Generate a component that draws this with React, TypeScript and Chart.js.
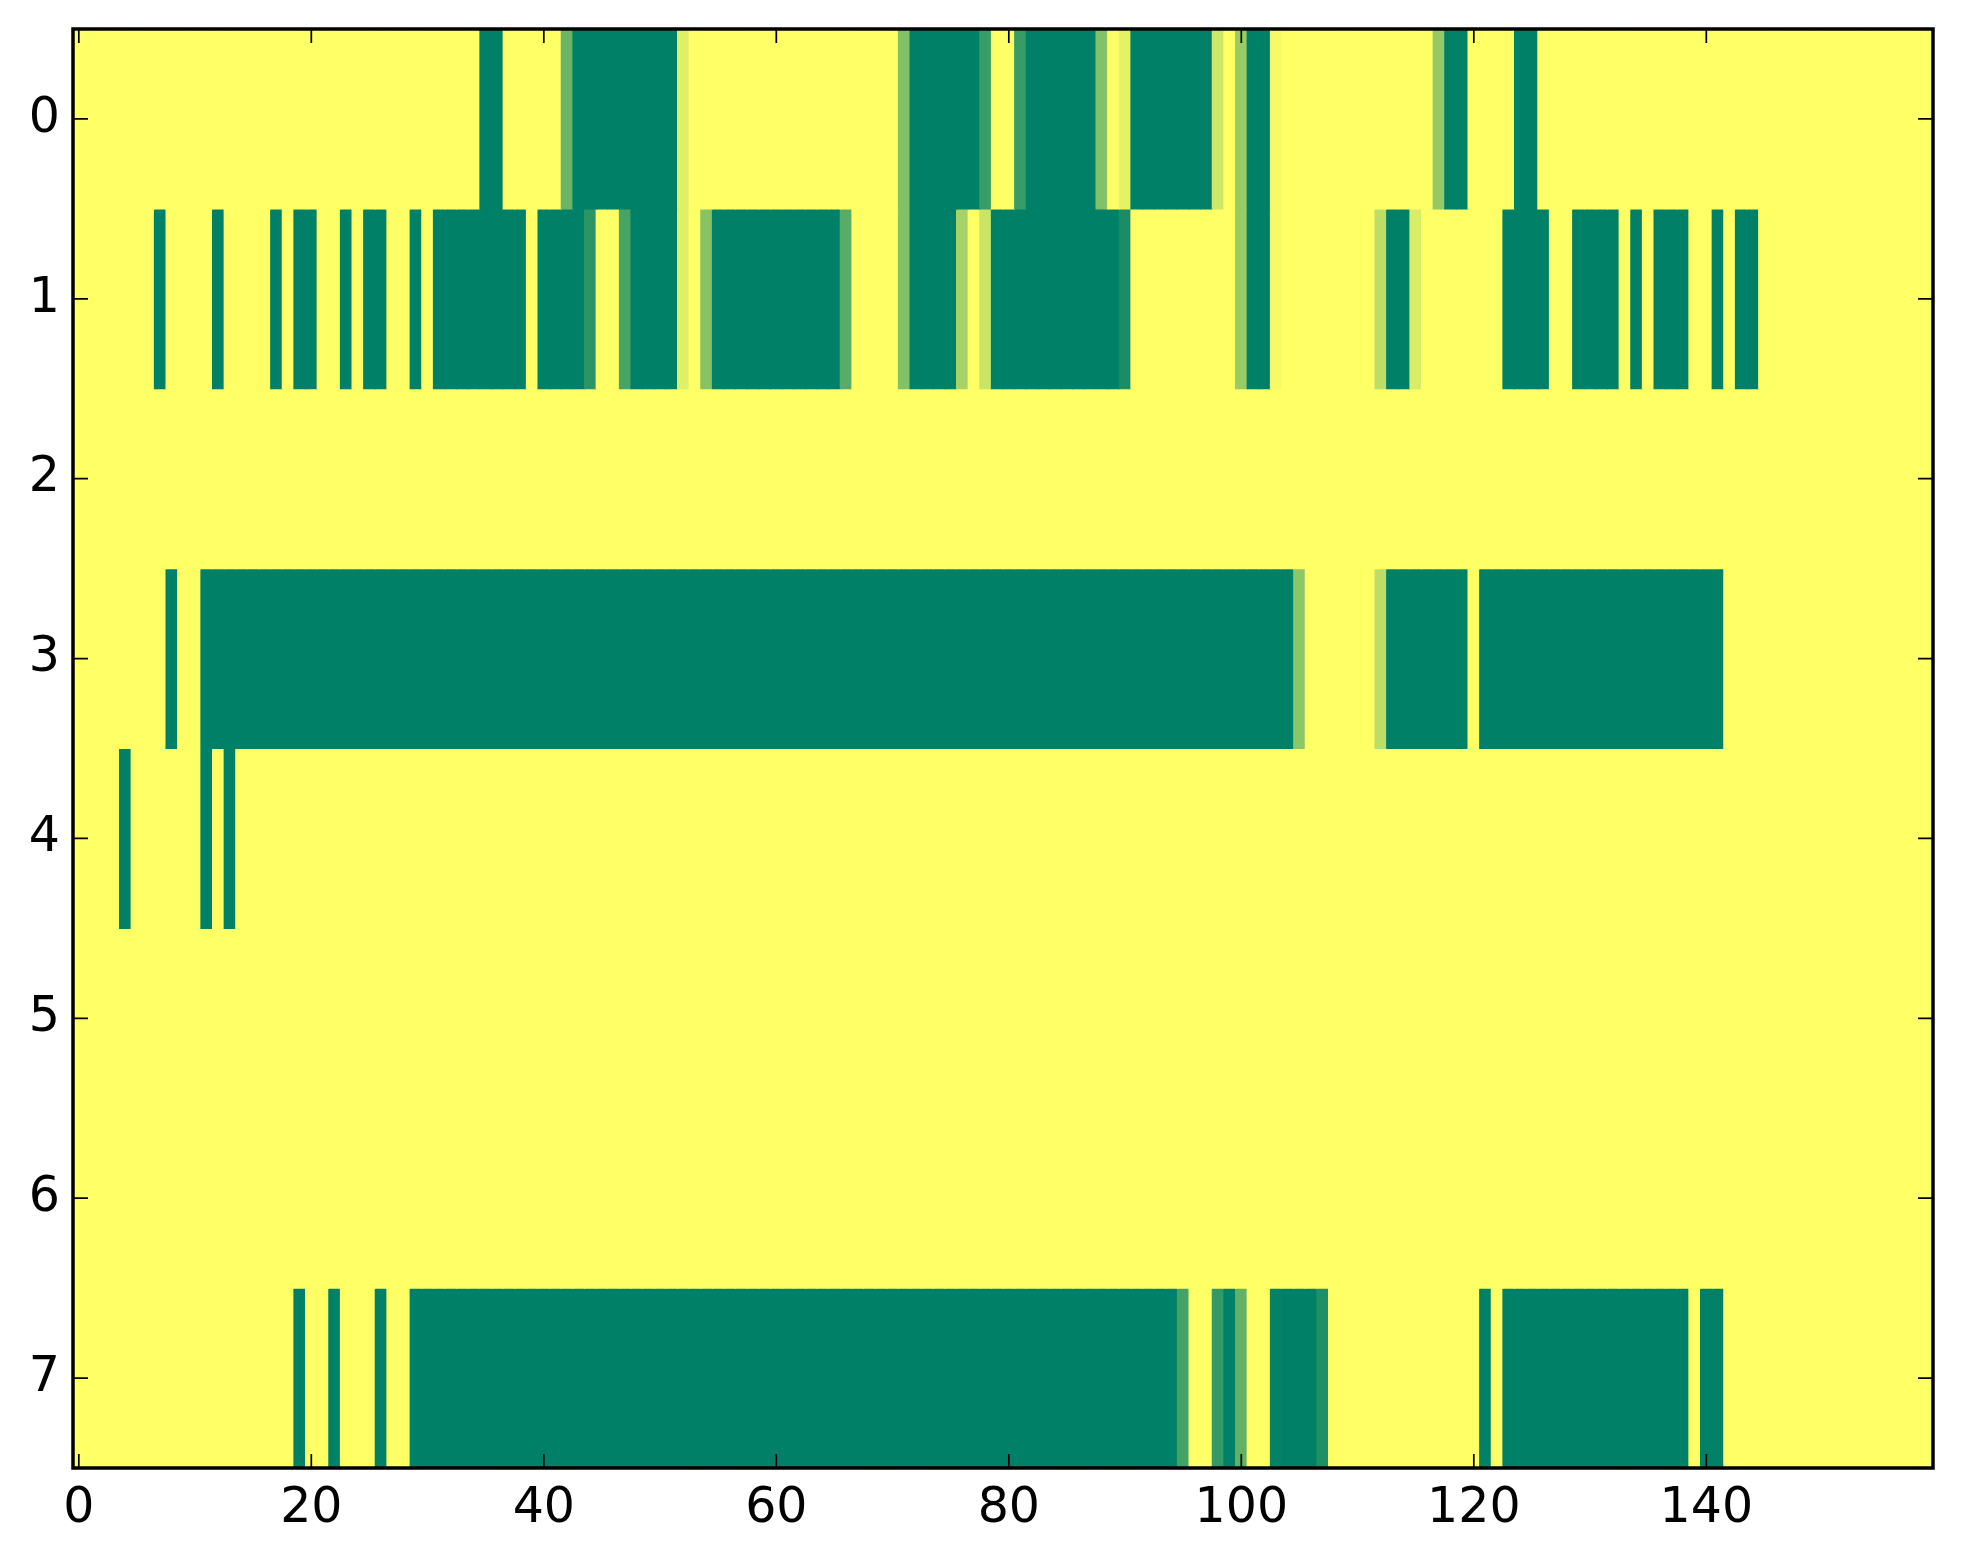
import React, { useEffect, useRef } from "react";
import { Chart, registerables } from "chart.js";

Chart.register(...registerables);

// Tick labels
const xTicks = [0, 20, 40, 60, 80, 100, 120, 140];
const yTicks = [0, 1, 2, 3, 4, 5, 6, 7];

// Cell values per row (160 columns each), 0 = green, 1 = yellow (summer colormap)
const row0 = [
  1, 1, 1, 1, 1, 1, 1, 1, 1, 1,
  1, 1, 1, 1, 1, 1, 1, 1, 1, 1,
  1, 1, 1, 1, 1, 1, 1, 1, 1, 1,
  1, 1, 1, 1, 1, 0, 0, 1, 1, 1,
  1, 1, 0.42, 0, 0, 0, 0, 0, 0, 0,
  0, 0, 0.88, 1, 1, 1, 1, 1, 1, 1,
  1, 1, 1, 1, 1, 1, 1, 1, 1, 1,
  1, 0.51, 0, 0, 0, 0, 0, 0, 0.22, 1,
  1, 0.22, 0, 0, 0, 0, 0, 0, 0.51, 1,
  0.9, 0, 0, 0, 0, 0, 0, 0, 0.81, 1,
  0.6, 0, 0, 0.96, 1, 1, 1, 1, 1, 1,
  1, 1, 1, 1, 1, 1, 1, 0.58, 0, 0,
  1, 1, 1, 1, 0, 0, 1, 1, 1, 1,
  1, 1, 1, 1, 1, 1, 1, 1, 1, 1,
  1, 1, 1, 1, 1, 1, 1, 1, 1, 1,
  1, 1, 1, 1, 1, 1, 1, 1, 1, 1,
];

const row1 = [
  1, 1, 1, 1, 1, 1, 1, 0, 1, 1,
  1, 1, 0, 1, 1, 1, 1, 0, 1, 0,
  0, 1, 1, 0, 1, 0, 0, 1, 1, 0,
  1, 0, 0, 0, 0, 0, 0, 0, 0, 1,
  0, 0, 0, 0, 0.17, 1, 1, 0.28, 0, 0,
  0, 0, 0.88, 1, 0.53, 0, 0, 0, 0, 0,
  0, 0, 0, 0, 0, 0, 0.35, 1, 1, 1,
  1, 0.51, 0, 0, 0, 0, 0.65, 1, 0.79, 0,
  0, 0, 0, 0, 0, 0, 0, 0, 0, 0,
  0.1, 1, 1, 1, 1, 1, 1, 1, 1, 1,
  0.6, 0, 0, 0.96, 1, 1, 1, 1, 1, 1,
  1, 1, 0.74, 0, 0, 0.85, 1, 1, 1, 1,
  1, 1, 1, 0, 0, 0, 0, 1, 1, 0,
  0, 0, 0, 1, 0, 1, 0, 0, 0, 1,
  1, 0, 1, 0, 0, 1, 1, 1, 1, 1,
  1, 1, 1, 1, 1, 1, 1, 1, 1, 1,
];

const row2 = [
  1, 1, 1, 1, 1, 1, 1, 1, 1, 1,
  1, 1, 1, 1, 1, 1, 1, 1, 1, 1,
  1, 1, 1, 1, 1, 1, 1, 1, 1, 1,
  1, 1, 1, 1, 1, 1, 1, 1, 1, 1,
  1, 1, 1, 1, 1, 1, 1, 1, 1, 1,
  1, 1, 1, 1, 1, 1, 1, 1, 1, 1,
  1, 1, 1, 1, 1, 1, 1, 1, 1, 1,
  1, 1, 1, 1, 1, 1, 1, 1, 1, 1,
  1, 1, 1, 1, 1, 1, 1, 1, 1, 1,
  1, 1, 1, 1, 1, 1, 1, 1, 1, 1,
  1, 1, 1, 1, 1, 1, 1, 1, 1, 1,
  1, 1, 1, 1, 1, 1, 1, 1, 1, 1,
  1, 1, 1, 1, 1, 1, 1, 1, 1, 1,
  1, 1, 1, 1, 1, 1, 1, 1, 1, 1,
  1, 1, 1, 1, 1, 1, 1, 1, 1, 1,
  1, 1, 1, 1, 1, 1, 1, 1, 1, 1,
];

const row3 = [
  1, 1, 1, 1, 1, 1, 1, 1, 0, 1,
  1, 0, 0, 0, 0, 0, 0, 0, 0, 0,
  0, 0, 0, 0, 0, 0, 0, 0, 0, 0,
  0, 0, 0, 0, 0, 0, 0, 0, 0, 0,
  0, 0, 0, 0, 0, 0, 0, 0, 0, 0,
  0, 0, 0, 0, 0, 0, 0, 0, 0, 0,
  0, 0, 0, 0, 0, 0, 0, 0, 0, 0,
  0, 0, 0, 0, 0, 0, 0, 0, 0, 0,
  0, 0, 0, 0, 0, 0, 0, 0, 0, 0,
  0, 0, 0, 0, 0, 0, 0, 0, 0, 0,
  0, 0, 0, 0, 0, 0.55, 1, 1, 1, 1,
  1, 1, 0.74, 0, 0, 0, 0, 0, 0, 0,
  1, 0, 0, 0, 0, 0, 0, 0, 0, 0,
  0, 0, 0, 0, 0, 0, 0, 0, 0, 0,
  0, 0, 1, 1, 1, 1, 1, 1, 1, 1,
  1, 1, 1, 1, 1, 1, 1, 1, 1, 1,
];

const row4 = [
  1, 1, 1, 1, 0, 1, 1, 1, 1, 1,
  1, 0, 1, 0, 1, 1, 1, 1, 1, 1,
  1, 1, 1, 1, 1, 1, 1, 1, 1, 1,
  1, 1, 1, 1, 1, 1, 1, 1, 1, 1,
  1, 1, 1, 1, 1, 1, 1, 1, 1, 1,
  1, 1, 1, 1, 1, 1, 1, 1, 1, 1,
  1, 1, 1, 1, 1, 1, 1, 1, 1, 1,
  1, 1, 1, 1, 1, 1, 1, 1, 1, 1,
  1, 1, 1, 1, 1, 1, 1, 1, 1, 1,
  1, 1, 1, 1, 1, 1, 1, 1, 1, 1,
  1, 1, 1, 1, 1, 1, 1, 1, 1, 1,
  1, 1, 1, 1, 1, 1, 1, 1, 1, 1,
  1, 1, 1, 1, 1, 1, 1, 1, 1, 1,
  1, 1, 1, 1, 1, 1, 1, 1, 1, 1,
  1, 1, 1, 1, 1, 1, 1, 1, 1, 1,
  1, 1, 1, 1, 1, 1, 1, 1, 1, 1,
];

const row5 = [
  1, 1, 1, 1, 1, 1, 1, 1, 1, 1,
  1, 1, 1, 1, 1, 1, 1, 1, 1, 1,
  1, 1, 1, 1, 1, 1, 1, 1, 1, 1,
  1, 1, 1, 1, 1, 1, 1, 1, 1, 1,
  1, 1, 1, 1, 1, 1, 1, 1, 1, 1,
  1, 1, 1, 1, 1, 1, 1, 1, 1, 1,
  1, 1, 1, 1, 1, 1, 1, 1, 1, 1,
  1, 1, 1, 1, 1, 1, 1, 1, 1, 1,
  1, 1, 1, 1, 1, 1, 1, 1, 1, 1,
  1, 1, 1, 1, 1, 1, 1, 1, 1, 1,
  1, 1, 1, 1, 1, 1, 1, 1, 1, 1,
  1, 1, 1, 1, 1, 1, 1, 1, 1, 1,
  1, 1, 1, 1, 1, 1, 1, 1, 1, 1,
  1, 1, 1, 1, 1, 1, 1, 1, 1, 1,
  1, 1, 1, 1, 1, 1, 1, 1, 1, 1,
  1, 1, 1, 1, 1, 1, 1, 1, 1, 1,
];

const row6 = [
  1, 1, 1, 1, 1, 1, 1, 1, 1, 1,
  1, 1, 1, 1, 1, 1, 1, 1, 1, 1,
  1, 1, 1, 1, 1, 1, 1, 1, 1, 1,
  1, 1, 1, 1, 1, 1, 1, 1, 1, 1,
  1, 1, 1, 1, 1, 1, 1, 1, 1, 1,
  1, 1, 1, 1, 1, 1, 1, 1, 1, 1,
  1, 1, 1, 1, 1, 1, 1, 1, 1, 1,
  1, 1, 1, 1, 1, 1, 1, 1, 1, 1,
  1, 1, 1, 1, 1, 1, 1, 1, 1, 1,
  1, 1, 1, 1, 1, 1, 1, 1, 1, 1,
  1, 1, 1, 1, 1, 1, 1, 1, 1, 1,
  1, 1, 1, 1, 1, 1, 1, 1, 1, 1,
  1, 1, 1, 1, 1, 1, 1, 1, 1, 1,
  1, 1, 1, 1, 1, 1, 1, 1, 1, 1,
  1, 1, 1, 1, 1, 1, 1, 1, 1, 1,
  1, 1, 1, 1, 1, 1, 1, 1, 1, 1,
];

const row7 = [
  1, 1, 1, 1, 1, 1, 1, 1, 1, 1,
  1, 1, 1, 1, 1, 1, 1, 1, 1, 0,
  1, 1, 0, 1, 1, 1, 0, 1, 1, 0,
  0, 0, 0, 0, 0, 0, 0, 0, 0, 0,
  0, 0, 0, 0, 0, 0, 0, 0, 0, 0,
  0, 0, 0, 0, 0, 0, 0, 0, 0, 0,
  0, 0, 0, 0, 0, 0, 0, 0, 0, 0,
  0, 0, 0, 0, 0, 0, 0, 0, 0, 0,
  0, 0, 0, 0, 0, 0, 0, 0, 0, 0,
  0, 0, 0, 0, 0, 0.27, 1, 1, 0.2, 0,
  0.39, 1, 1, 0.02, 0, 0, 0, 0.12, 1, 1,
  1, 1, 1, 1, 1, 1, 1, 1, 1, 1,
  1, 0, 1, 0, 0, 0, 0, 0, 0, 0,
  0, 0, 0, 0, 0, 0, 0, 0, 0, 1,
  0, 0, 1, 1, 1, 1, 1, 1, 1, 1,
  1, 1, 1, 1, 1, 1, 1, 1, 1, 1,
];

const rows = [row0, row1, row2, row3, row4, row5, row6, row7];

// matplotlib "summer" colormap
function summer(v: number): string {
  const r = Math.round(v * 255);
  const g = Math.round((0.5 + 0.5 * v) * 255);
  const b = Math.round(0.4 * 255);
  return `rgb(${r},${g},${b})`;
}

const FONT = { family: "'DejaVu Sans', sans-serif", size: 49 };

const framePlugin = {
  id: "mplFrame",
  afterDatasetsDraw(chart: any) {
    const { ctx, chartArea: a, scales } = chart;
    ctx.save();
    ctx.strokeStyle = "#000";
    ctx.lineWidth = 1.7;
    ctx.beginPath();
    for (const t of xTicks) {
      const px = scales.x.getPixelForValue(t);
      ctx.moveTo(px, a.bottom);
      ctx.lineTo(px, a.bottom - 14);
      ctx.moveTo(px, a.top);
      ctx.lineTo(px, a.top + 14);
    }
    for (const t of yTicks) {
      const py = scales.y.getPixelForValue(t);
      ctx.moveTo(a.left, py);
      ctx.lineTo(a.left + 15, py);
      ctx.moveTo(a.right, py);
      ctx.lineTo(a.right - 15, py);
    }
    ctx.stroke();
    ctx.lineWidth = 3.5;
    ctx.strokeRect(a.left, a.top, a.right - a.left, a.bottom - a.top);
    ctx.restore();
  },
};

export default function App() {
  const ref = useRef<HTMLCanvasElement>(null);

  useEffect(() => {
    if (!ref.current) return;
    const datasets = rows.map((row, r) => ({
      label: `row ${r}`,
      data: row.map((_v, c) => ({ x: c, y: [r - 0.5, r + 0.5] })),
      backgroundColor: row.map(summer),
      borderWidth: 0,
      inflateAmount: 0.5,
      barPercentage: 1,
      categoryPercentage: 1,
    }));

    const chart = new Chart(ref.current, {
      type: "bar",
      data: { datasets } as any,
      plugins: [framePlugin],
      options: {
        animation: false,
        responsive: false,
        devicePixelRatio: 1,
        layout: { padding: { top: 29, right: 30, left: 0, bottom: 0 } },
        plugins: {
          legend: { display: false },
          tooltip: { enabled: false },
        },
        scales: {
          x: {
            type: "linear",
            min: -0.5,
            max: 159.5,
            stacked: true,
            offset: false,
            grid: { display: false, drawTicks: false },
            border: { display: false },
            ticks: {
              font: FONT,
              color: "#000",
              padding: 12,
              maxRotation: 0,
              autoSkip: false,
            },
            afterBuildTicks: (s: any) => {
              s.ticks = xTicks.map((v) => ({ value: v }));
            },
            afterFit: (s: any) => {
              s.height = 96;
              s.paddingLeft = 0;
              s.paddingRight = 0;
            },
          },
          y: {
            type: "linear",
            min: -0.5,
            max: 7.5,
            reverse: true,
            stacked: false,
            grid: { display: false, drawTicks: false },
            border: { display: false },
            ticks: {
              font: FONT,
              color: "#000",
              padding: 13,
              autoSkip: false,
            },
            afterBuildTicks: (s: any) => {
              s.ticks = yTicks.map((v) => ({ value: v }));
            },
            afterFit: (s: any) => {
              s.width = 73;
              s.paddingTop = 0;
              s.paddingBottom = 0;
            },
          },
        },
      } as any,
    });
    return () => chart.destroy();
  }, []);

  return (
    <div
      style={{
        position: "fixed",
        left: 0,
        top: 0,
        width: 1963,
        height: 1564,
        background: "#fff",
      }}
    >
      <canvas
        ref={ref}
        width={1963}
        height={1564}
        style={{ display: "block", width: 1963, height: 1564 }}
      />
    </div>
  );
}
